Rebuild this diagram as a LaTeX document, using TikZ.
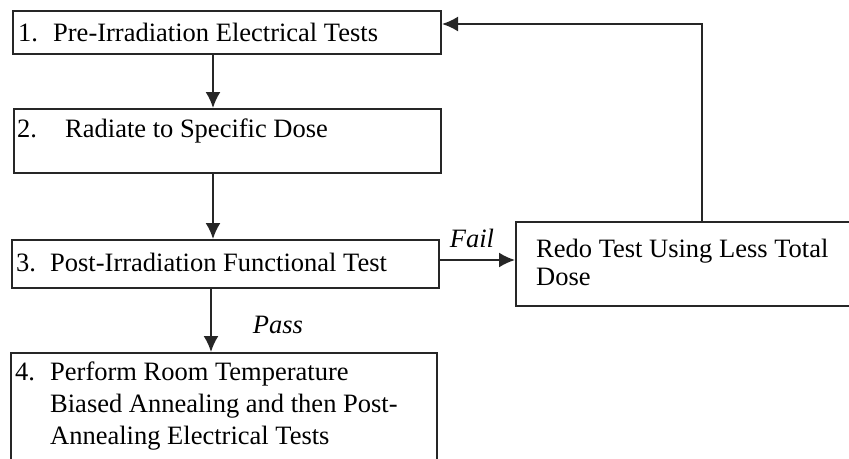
\documentclass[tikz,border=0pt]{standalone}
\usepackage{fontspec}
\setmainfont{Liberation Serif}
\usetikzlibrary{arrows.meta}
\begin{document}
\begin{tikzpicture}[x=1pt,y=-1pt,
  box/.style={draw=black!85, line width=2pt, anchor=north west, inner sep=0pt},
  txt/.style={anchor=west, inner sep=0pt, font=\fontsize{26.5}{32}\selectfont, text=black, align=left},
  lbl/.style={inner sep=0pt, font=\fontsize{26.5}{31}\selectfont\itshape, text=black},
  conn/.style={draw=black!85, line width=2pt, -{Latex[length=16pt,width=15pt]}}]
\useasboundingbox (0,0) rectangle (849,458);
% boxes
\node[box, minimum width=428pt, minimum height=43pt] (b1) at (12,10) {};
\node[box, minimum width=427pt, minimum height=64pt] (b2) at (13,108) {};
\node[box, minimum width=427pt, minimum height=48pt] (b3) at (11,239) {};
\node[box, minimum width=426pt, minimum height=110pt] (b4) at (10,352) {};
\node[box, minimum width=335pt, minimum height=84pt] (r) at (515,221) {};
% texts
\node[txt] (t1) at (18,32) {\makebox[35pt][l]{1.}Pre-Irradiation Electrical Tests};
\node[txt] (t2) at (17,131) {\makebox[48pt][l]{2.}Radiate to Specific Dose};
\node[txt] (t3) at (16,262) {\makebox[34pt][l]{3.}Post-Irradiation Functional Test};
\node[txt, anchor=north west] (t4) at (15,362) {\makebox[35pt][l]{4.}Perform Room Temperature\\\hspace*{35pt}Biased Annealing and then Post-\\\hspace*{35pt}Annealing Electrical Tests};
\node[txt, anchor=north west, font=\fontsize{26.5}{28}\selectfont] (tr) at (536,239) {Redo Test Using Less Total\\Dose};
% connectors
\draw[conn] (b1.south -| 213,0) -- (b2.north -| 213,0);
\draw[conn] (b2.south -| 213,0) -- (b3.north -| 213,0);
\draw[conn] (b3.south -| 211,0) -- (b4.north -| 211,0);
\draw[conn] (b3.east |- 0,260) -- (r.west |- 0,260);
\coordinate (c1) at (702,24);
\draw[conn] (r.north -| c1) -- (c1) -- (b1.east |- c1);
% labels
\node[lbl] (pass) at (278,325) {Pass};
\node[lbl] (fail) at (472,238) {Fail};
\end{tikzpicture}
\end{document}
